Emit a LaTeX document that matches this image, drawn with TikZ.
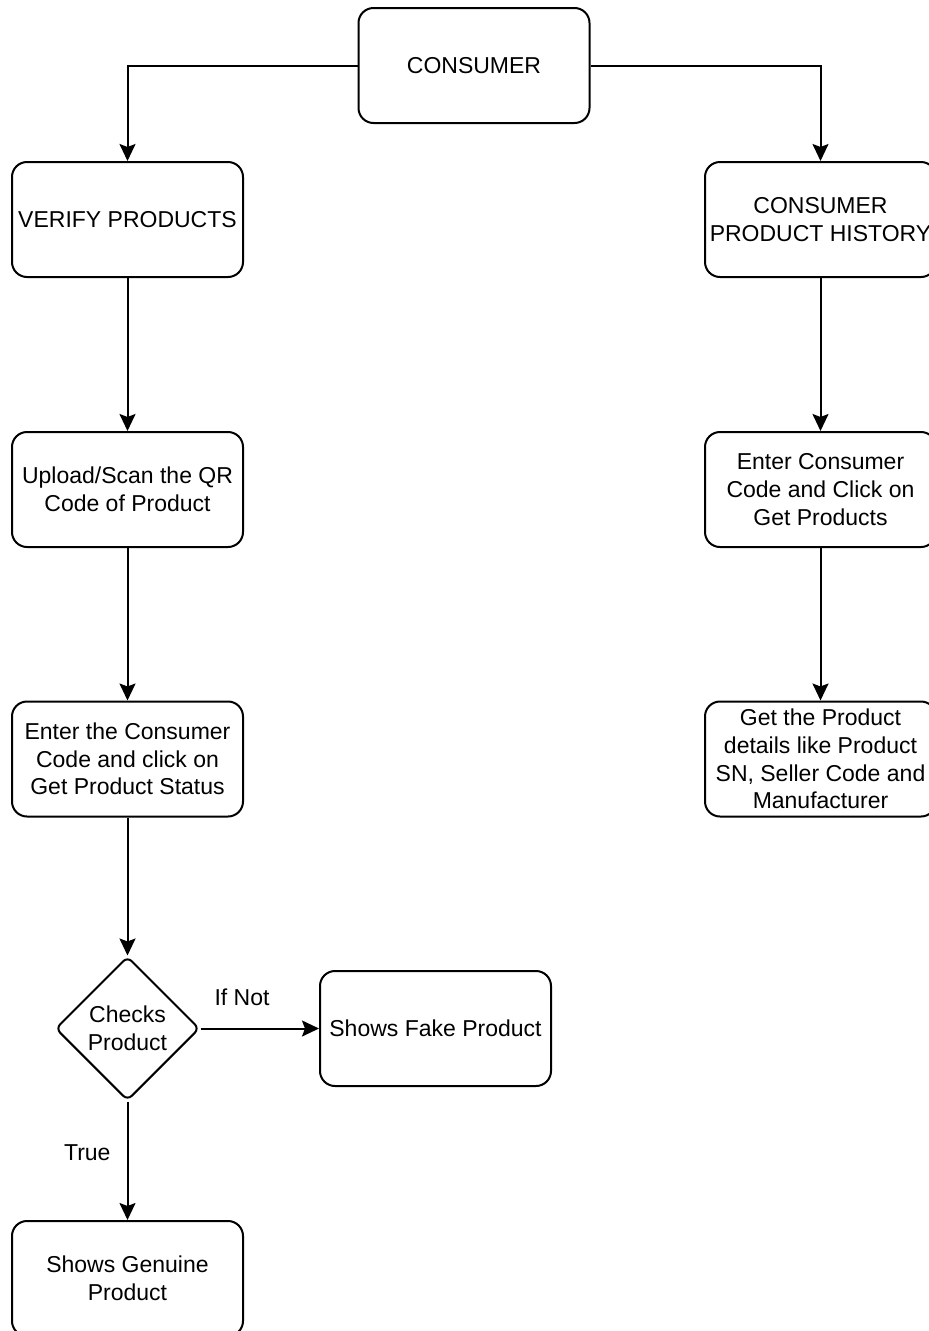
\documentclass[tikz,border=0pt]{standalone}
\usepackage{fontspec}
\setmainfont{Liberation Sans}
\usetikzlibrary{shapes.geometric, arrows.meta}

\begin{document}
\begin{tikzpicture}[x=1pt, y=-1pt,
    every node/.style={font=\fontsize{23}{27.6}\selectfont},
    box/.style={draw, line width=2pt, rounded corners=15pt, minimum width=231pt, minimum height=115pt, inner sep=0pt, align=center},
    check/.style={draw, diamond, line width=2pt, rounded corners=6pt, minimum width=144pt, minimum height=144pt, inner sep=0pt, align=center},
    link/.style={draw, line width=2pt, -{Stealth[length=17pt, width=16pt, inset=3pt]}}]
    % page
    \useasboundingbox (0,0) rectangle (929,1331);
    \clip (0,0) rectangle (929,1331);

    % top
    \node[box] (consumer) at (474, 65.5) {CONSUMER};

    % verify products
    \node[box] (verify) at (127.5, 219.5) {VERIFY PRODUCTS};
    \node[box] (upload) at (127.5, 489.5) {Upload/Scan the QR\\Code of Product};
    \node[box] (enter) at (127.5, 759) {Enter the Consumer\\Code and click on\\Get Product Status};
    \node[check] (checks) at (127.5, 1028.5) {Checks\\Product};
    \node[box] (fake) at (435.5, 1028.5) {Shows Fake Product};
    \node[box] (genuine) at (127.5, 1278.5) {Shows Genuine\\Product};

    % product history
    \node[box] (history) at (820.5, 219.5) {CONSUMER\\PRODUCT HISTORY};
    \node[box] (code) at (820.5, 489.5) {Enter Consumer\\Code and Click on\\Get Products};
    \node[box] (details) at (820.5, 759) {Get the Product\\details like Product\\SN, Seller Code and\\Manufacturer};

    % connectors
    \draw[link] (consumer.west) -| (verify.north);
    \draw[link] (consumer.east) -| (history.north);
    \draw[link] (verify) -- (upload);
    \draw[link] (upload) -- (enter);
    \draw[link] (enter) -- (checks);
    \draw[link] (checks) -- node[pos=0.35, above=21.5pt, inner sep=0pt] {If Not} (fake);
    \draw[link] (checks) -- node[pos=0.43, left=16pt, inner sep=0pt] {True} (genuine);
    \draw[link] (history) -- (code);
    \draw[link] (code) -- (details);
\end{tikzpicture}
\end{document}
